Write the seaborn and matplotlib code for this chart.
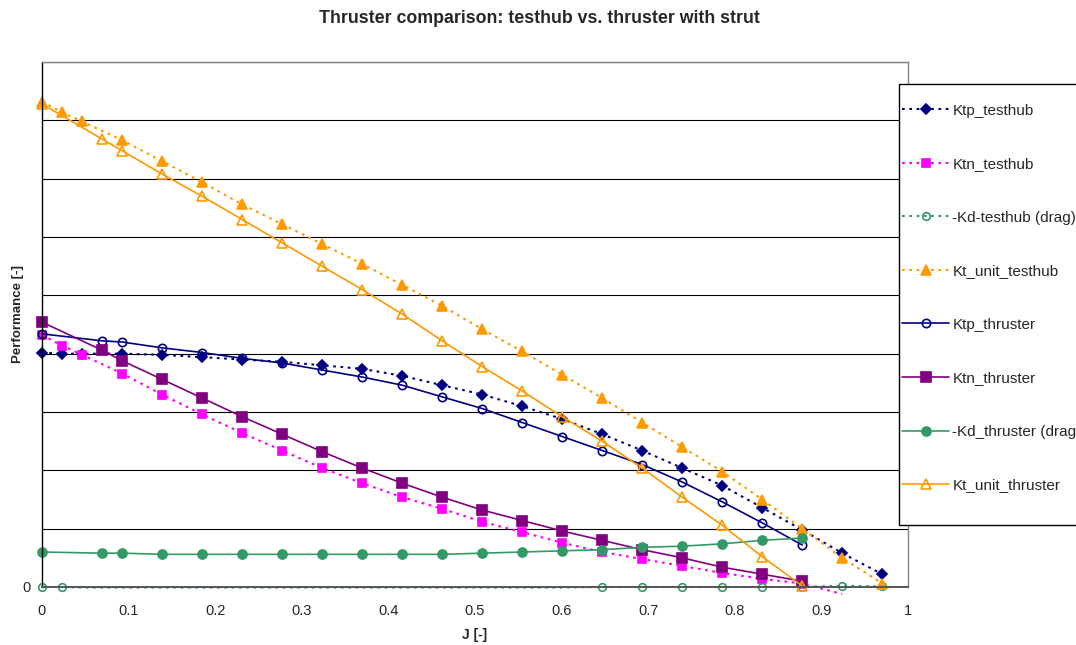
import numpy as np
import pandas as pd
import matplotlib
matplotlib.use("Agg")
import matplotlib.pyplot as plt
from matplotlib.patches import Rectangle
import seaborn as sns

# ---------------- data ----------------
x_testhub = [0.0, 0.0231, 0.0462, 0.0924, 0.1386, 0.1848, 0.2310, 0.2772, 0.3234, 0.3696,
             0.4158, 0.4620, 0.5082, 0.5544, 0.6006, 0.6468, 0.6930, 0.7392, 0.7854, 0.8316,
             0.8778, 0.9240, 0.9702]
x_thruster = [0.0, 0.0693, 0.0924, 0.1386, 0.1848, 0.2310, 0.2772, 0.3234, 0.3696, 0.4158,
              0.4620, 0.5082, 0.5544, 0.6006, 0.6468, 0.6930, 0.7392, 0.7854, 0.8316, 0.8778]

ktp_testhub = [0.201, 0.200, 0.200, 0.200, 0.199, 0.197, 0.195, 0.193, 0.190, 0.187,
               0.181, 0.173, 0.165, 0.155, 0.144, 0.131, 0.117, 0.102, 0.087, 0.068,
               0.049, 0.029, 0.011]
ktn_testhub = [0.216, 0.207, 0.199, 0.183, 0.165, 0.148, 0.132, 0.117, 0.102, 0.089,
               0.077, 0.067, 0.056, 0.047, 0.038, 0.030, 0.024, 0.018, 0.012, 0.007,
               0.003, -0.006, np.nan]
kd_testhub = [0.0, 0.0, -0.0005, -0.0005, -0.0005, -0.0005, -0.0005, -0.0005, -0.0005, -0.0005,
              -0.0005, -0.0005, -0.0005, -0.0005, -0.0005, 0.0, 0.0, 0.0, 0.0, 0.0,
              0.0, 0.001, 0.0005]
kt_unit_testhub = [0.416, 0.407, 0.399, 0.383, 0.365, 0.347, 0.328, 0.311, 0.294, 0.277,
                   0.259, 0.241, 0.221, 0.202, 0.182, 0.162, 0.141, 0.120, 0.099, 0.075,
                   0.050, 0.025, 0.003]

ktp_thruster = [0.217, 0.211, 0.210, 0.205, 0.201, 0.196, 0.192, 0.186, 0.180, 0.173,
                0.163, 0.153, 0.141, 0.129, 0.117, 0.105, 0.090, 0.073, 0.055, 0.036]
ktn_thruster = [0.227, 0.203, 0.194, 0.178, 0.162, 0.146, 0.131, 0.116, 0.102, 0.089,
                0.077, 0.066, 0.057, 0.048, 0.040, 0.032, 0.025, 0.017, 0.011, 0.005]
kd_thruster = [0.030, 0.029, 0.029, 0.028, 0.028, 0.028, 0.028, 0.028, 0.028, 0.028,
               0.028, 0.029, 0.030, 0.031, 0.032, 0.034, 0.035, 0.037, 0.040, 0.042]
kt_unit_thruster = [0.414, 0.384, 0.374, 0.354, 0.335, 0.315, 0.295, 0.275, 0.255, 0.234,
                    0.211, 0.189, 0.168, 0.146, 0.125, 0.102, 0.077, 0.053, 0.026, 0.001]

series_names = ["Ktp_testhub", "Ktn_testhub", "-Kd-testhub (drag)", "Kt_unit_testhub",
                "Ktp_thruster", "Ktn_thruster", "-Kd_thruster (drag)", "Kt_unit_thruster"]

x_tick_values = [0, 0.1, 0.2, 0.3, 0.4, 0.5, 0.6, 0.7, 0.8, 0.9, 1.0]
x_tick_labels = ["0", "0.1", "0.2", "0.3", "0.4", "0.5", "0.6", "0.7", "0.8", "0.9", "1"]
y_tick_values = [0, 0.05, 0.10, 0.15, 0.20, 0.25, 0.30, 0.35, 0.40, 0.45]
y_tick_labels = ["0", "", "", "", "", "", "", "", "", ""]

title = "Thruster comparison: testhub vs. thruster with strut"
xlabel = "J [-]"
ylabel = "Performance [-]"

# ---------------- style ----------------
sns.set_style("white")
plt.rcParams["font.family"] = ["Liberation Sans", "DejaVu Sans"]
plt.rcParams["font.size"] = 10

NAVY = "#000080"
MAGENTA = "#FF00FF"
GREEN = "#339966"
ORANGE = "#FF9900"
PURPLE = "#800080"
DOT = (0, (1.3, 2.2))

W, H = 1076, 645
fig = plt.figure(figsize=(W / 100, H / 100), dpi=100)
ax = fig.add_axes([42 / W, (H - 587) / H, 866 / W, 525 / H])

specs = [
    (x_testhub, ktp_testhub, series_names[0], NAVY, "D", NAVY, 5.5, DOT),
    (x_testhub, ktn_testhub, series_names[1], MAGENTA, "s", MAGENTA, 6, DOT),
    (x_testhub, kd_testhub, series_names[2], GREEN, "o", "none", 5.5, DOT),
    (x_testhub, kt_unit_testhub, series_names[3], ORANGE, "^", ORANGE, 7, DOT),
    (x_thruster, ktp_thruster, series_names[4], NAVY, "o", "none", 6, "-"),
    (x_thruster, ktn_thruster, series_names[5], PURPLE, "s", PURPLE, 6.5, "-"),
    (x_thruster, kd_thruster, series_names[6], GREEN, "o", GREEN, 6.5, "-"),
    (x_thruster, kt_unit_thruster, series_names[7], ORANGE, "^", "none", 7, "-"),
]

for xs, ys, name, col, mk, mfc, ms, ls in specs:
    df = pd.DataFrame({"J": xs, "val": ys}).dropna()
    # markers below the value axis minimum are not shown (as in the original chart)
    visible = list(df["val"] >= 0)
    sns.lineplot(x="J", y="val", data=df, ax=ax, color=col, marker=mk,
                 markerfacecolor=mfc, markeredgecolor=col, markersize=ms,
                 markeredgewidth=1.2, linestyle=ls,
                 linewidth=1.5 if ls is DOT else 1.2, label=name,
                 errorbar=None, sort=False, markevery=visible, clip_on=False)

ax.set_xlim(0, 1)
ax.set_ylim(0, 0.45)
ax.set_xticks(x_tick_values)
ax.set_xticklabels(x_tick_labels, fontsize=10.5)
ax.set_yticks(y_tick_values)
ax.set_yticklabels(y_tick_labels, fontsize=10.5)
ax.tick_params(axis="both", direction="out", length=4, width=0.8, color="black", pad=4)
ax.tick_params(axis="x", pad=8)
ax.yaxis.grid(True, color="black", linewidth=0.8)
ax.xaxis.grid(False)
ax.set_axisbelow(True)
ax.set_xlabel("")
ax.set_ylabel("")

ax.spines["left"].set_color("black")
ax.spines["left"].set_linewidth(1.0)
ax.spines["bottom"].set_color("#555555")
ax.spines["bottom"].set_linewidth(1.4)
for s in ("top", "right"):
    ax.spines[s].set_color("#808080")
    ax.spines[s].set_linewidth(1.0)

fig.text(0.501, 1 - 18.5 / H, title, ha="center", va="center", fontsize=12.8, fontweight="bold")
fig.text(475 / W, 1 - 635 / H, xlabel, ha="center", va="center", fontsize=10, fontweight="bold")
fig.text(18 / W, 1 - 314 / H, ylabel, ha="center", va="center", rotation=90,
         fontsize=9.5, fontweight="bold")

# legend box (extends past the right edge of the picture, as in the original)
box = Rectangle((899 / W, 1 - 525 / H), 200 / W, 441 / H, transform=fig.transFigure,
                facecolor="white", edgecolor="black", linewidth=1.0, clip_on=False, zorder=6)
ax.add_patch(box)

leg = ax.legend(loc="upper left", bbox_to_anchor=(902 / W, 1 - 103.5 / H),
                bbox_transform=fig.transFigure, borderaxespad=0, frameon=False,
                fontsize=11, labelspacing=2.59, handlelength=3.1,
                handletextpad=0.2, borderpad=0)
leg.set_zorder(10)

fig.savefig("out.png", dpi=100)
